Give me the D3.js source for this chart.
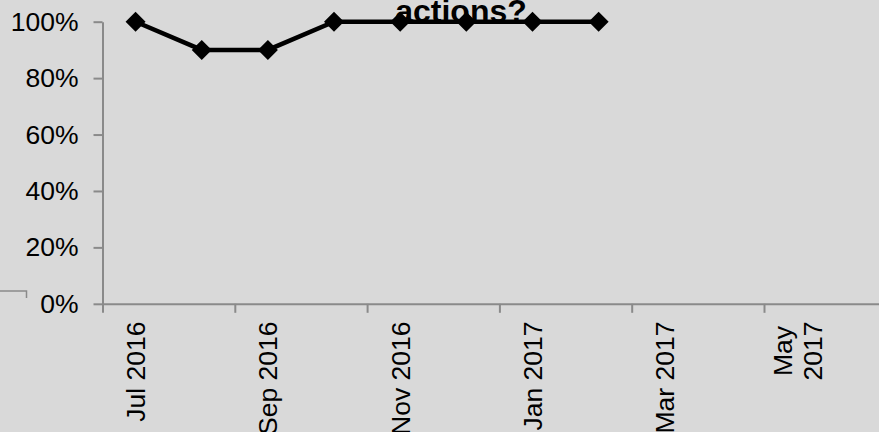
<!DOCTYPE html>
<html>
<head>
<meta charset="utf-8">
<script src="https://cdn.jsdelivr.net/npm/d3@7"></script>
<style>
  body { margin: 0; background: #d9d9d9; }
  svg { display: block; font-family: Arial, "Liberation Sans", sans-serif; }
</style>
</head>
<body>
<div id="chart"></div>
<script>
// data
var months = ["Jul 2016", "Aug 2016", "Sep 2016", "Oct 2016", "Nov 2016", "Dec 2016", "Jan 2017", "Feb 2017"];
var values = [100, 90, 90, 100, 100, 100, 100, 100];
var tickLabels = [["Jul 2016"], ["Sep 2016"], ["Nov 2016"], ["Jan 2017"], ["Mar 2017"], ["May", "2017"]];
var yTicks = [0, 20, 40, 60, 80, 100];
var titleText = "actions?";

var width = 879, height = 432;
var fontSize = "26.5px";

var svg = d3.select("#chart").append("svg")
    .attr("width", width)
    .attr("height", height);

svg.append("rect")
    .attr("width", width)
    .attr("height", height)
    .attr("fill", "#d9d9d9");

// month index scale (one slot per month, points in slot centres)
var x = d3.scaleLinear()
    .domain([0, 12])
    .range([102.5, 896.3]);

var y = d3.scaleLinear()
    .domain([0, 100])
    .range([303.8, 21.7]);

// stray frame corner bottom-left
svg.append("path")
    .attr("d", "M0,291H26.5V298")
    .attr("fill", "none")
    .attr("stroke", "#8a8a8a")
    .attr("stroke-width", 1.5);

// y axis
var yAxis = svg.append("g")
    .attr("transform", "translate(" + x(0) + ",0)")
    .call(d3.axisLeft(y)
        .tickValues(yTicks)
        .tickFormat(function(d) { return d + "%"; })
        .tickSize(9)
        .tickSizeOuter(0)
        .tickPadding(15));

// x axis (ticks every two months)
var xAxis = svg.append("g")
    .attr("transform", "translate(0," + y(0) + ")")
    .call(d3.axisBottom(x)
        .tickValues(d3.range(0, 12, 2))
        .tickFormat("")
        .tickSize(9)
        .tickSizeOuter(0));

svg.selectAll(".domain, .tick line")
    .attr("stroke", "#8a8a8a")
    .attr("stroke-width", 2);

yAxis.selectAll("text")
    .attr("fill", "#000")
    .style("font-size", fontSize);

// rotated x labels, centred in first month of each pair
var labelG = svg.append("g");
tickLabels.forEach(function(lines, i) {
    var cx = x(i * 2 + 0.5);
    var t = labelG.append("text")
        .attr("transform", "translate(" + cx + ",321.5) rotate(-90)")
        .attr("text-anchor", lines.length > 1 ? "middle" : "end")
        .attr("fill", "#000")
        .style("font-size", fontSize);
    lines.forEach(function(l, j) {
        t.append("tspan")
            .attr("x", lines.length > 1 ? -29.5 : 0)
            .attr("y", (j - (lines.length - 1) / 2) * 30 + 9.5)
            .text(l);
    });
});

// title (clipped at top in the reference too)
svg.append("text")
    .attr("x", 461)
    .attr("y", 22)
    .attr("text-anchor", "middle")
    .style("font-size", "32px")
    .style("font-weight", "bold")
    .attr("fill", "#000")
    .text(titleText);

// series line
var line = d3.line()
    .x(function(d, i) { return x(i + 0.5); })
    .y(function(d) { return y(d); });

svg.append("path")
    .datum(values)
    .attr("d", line)
    .attr("fill", "none")
    .attr("stroke", "#000")
    .attr("stroke-width", 4.5);

svg.selectAll(".marker")
    .data(values)
    .enter().append("path")
    .attr("class", "marker")
    .attr("d", d3.symbol(d3.symbolSquare, 200))
    .attr("transform", function(d, i) {
        return "translate(" + x(i + 0.5) + "," + y(d) + ") rotate(45)";
    })
    .attr("fill", "#000");
</script>
</body>
</html>
